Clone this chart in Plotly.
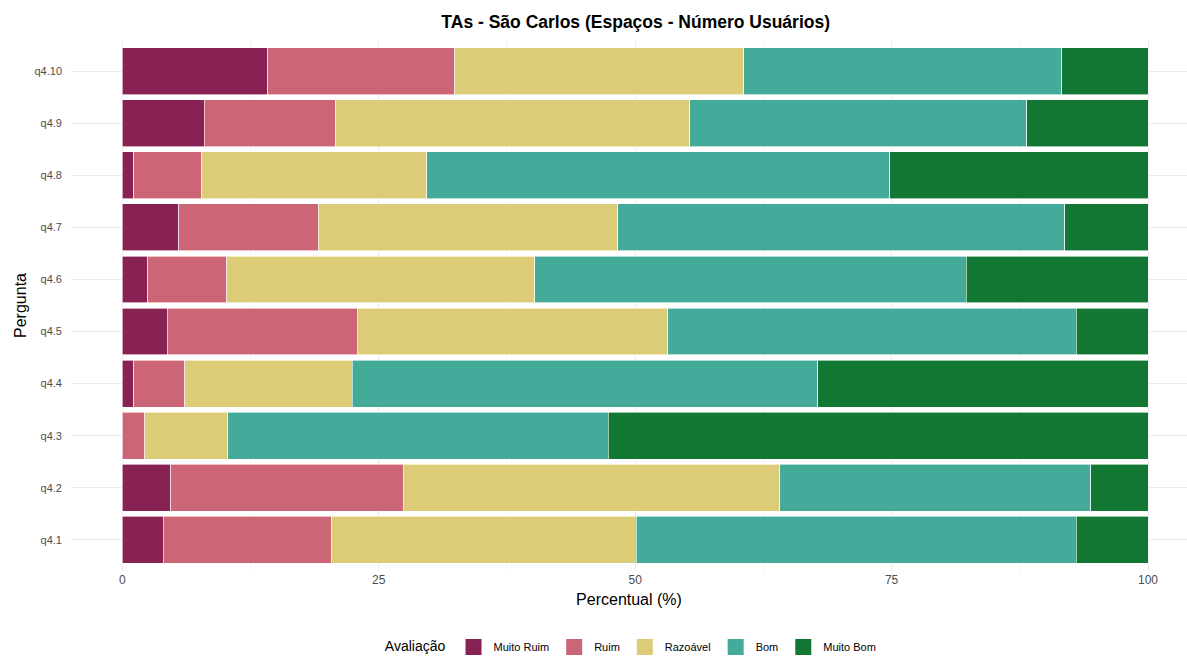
import plotly.graph_objects as go

perguntas = ["q4.1", "q4.2", "q4.3", "q4.4", "q4.5", "q4.6", "q4.7", "q4.8", "q4.9", "q4.10"]

muito_ruim = [4.0, 4.7, 0.0, 1.1, 4.4, 2.5, 5.5, 1.1, 8.0, 14.2]
ruim       = [16.4, 22.7, 2.2, 5.0, 18.5, 7.7, 13.6, 6.6, 12.8, 18.2]
razoavel   = [29.7, 36.7, 8.1, 16.3, 30.3, 30.0, 29.2, 22.0, 34.5, 28.2]
bom        = [42.9, 30.3, 37.1, 45.4, 39.8, 42.1, 43.6, 45.1, 32.9, 31.0]
muito_bom  = [7.0, 5.6, 52.6, 32.2, 7.0, 17.7, 8.1, 25.2, 11.8, 8.4]

series = [
    ("Muito Ruim", muito_ruim, "#882255"),
    ("Ruim", ruim, "#CC6677"),
    ("Razoável", razoavel, "#DDCC77"),
    ("Bom", bom, "#44AA99"),
    ("Muito Bom", muito_bom, "#117733"),
]

fig = go.Figure()
for name, vals, color in series:
    fig.add_trace(go.Bar(
        y=perguntas, x=vals, name=name, orientation="h",
        marker=dict(color=color, line=dict(color="white", width=0.6)),
        width=0.9, showlegend=False,
    ))
# legend entries with larger square keys
for name, vals, color in series:
    fig.add_trace(go.Scatter(
        x=[None], y=[None], mode="markers", name=name,
        marker=dict(symbol="square", size=18, color=color),
        showlegend=True,
    ))

fig.update_layout(
    barmode="stack",
    width=1187, height=656,
    paper_bgcolor="white", plot_bgcolor="white",
    margin=dict(l=71, r=0, t=40, b=85, autoexpand=False),
    font=dict(family="Liberation Sans, Arial, sans-serif", color="#000000"),
    title=dict(text="<b>TAs - São Carlos (Espaços - Número Usuários)</b>",
               x=0.506, xref="paper", xanchor="center",
               y=1 - 22 / 656, yref="container", yanchor="middle",
               font=dict(size=17.5, color="#000000")),
    xaxis=dict(
        range=[-5, 103.8], tickvals=[0, 25, 50, 75, 100],
        showgrid=True, gridcolor="#EBEBEB", gridwidth=1,
        minor=dict(tickvals=[12.5, 37.5, 62.5, 87.5], showgrid=True,
                   gridcolor="#F3F3F3", gridwidth=0.6),
        zeroline=False, showline=False, ticks="", automargin=False,
        tickfont=dict(size=12, color="#4D4D4D"),
        title=dict(text="Percentual (%)", font=dict(size=16, color="#000000"), standoff=7),
    ),
    yaxis=dict(
        categoryorder="array", categoryarray=perguntas,
        range=[-0.6, 9.6],
        showgrid=True, gridcolor="#EBEBEB", gridwidth=1,
        zeroline=False, showline=False, ticks="", automargin=False,
        tickfont=dict(size=11, color="#4D4D4D"),
        ticklabelstandoff=8,
        title=dict(text="Pergunta", font=dict(size=16, color="#000000"), standoff=3),
    ),
    legend=dict(
        orientation="h", x=0.503, xanchor="center", xref="paper",
        y=1 - 647 / 656, yanchor="middle", yref="container",
        title=dict(text="Avaliação", font=dict(size=14, color="#000000"), side="left"),
        font=dict(size=11, color="#000000"),
        traceorder="normal",
    ),
)

fig.write_html("out.html", config={"displayModeBar": False},
               post_script="document.body.style.margin='0';document.body.style.overflow='hidden';")
